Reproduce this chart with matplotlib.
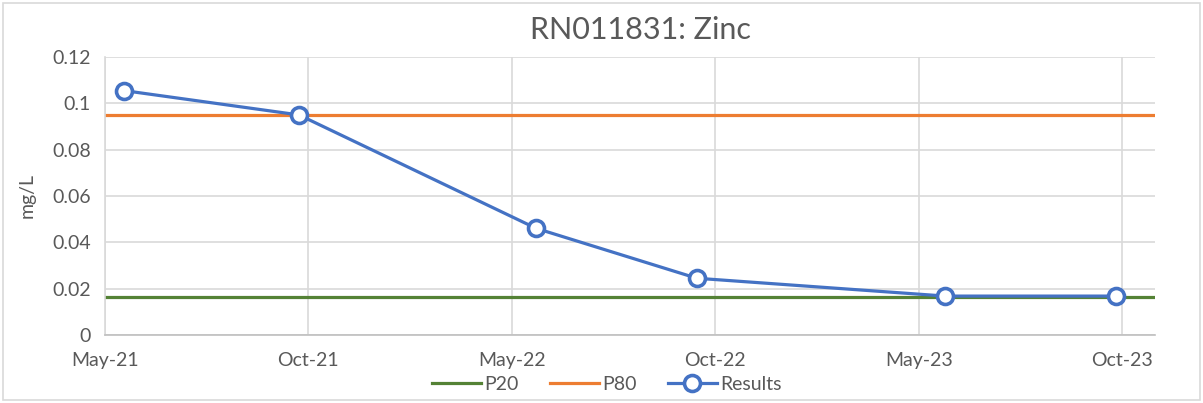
import matplotlib
matplotlib.use("Agg")
import matplotlib.pyplot as plt
import matplotlib.dates as mdates
from matplotlib.patches import Rectangle
import datetime as dt

# ---- data ----
sample_dates = ["2021-05-19", "2021-10-23", "2022-05-24", "2022-10-15", "2023-05-26", "2023-10-26"]
results = [0.1055, 0.095, 0.046, 0.0245, 0.0168, 0.0168]
p20_value = 0.0163
p80_value = 0.0948
tick_labels = ["May-21", "Oct-21", "May-22", "Oct-22", "May-23", "Oct-23"]
y_ticks = [0, 0.02, 0.04, 0.06, 0.08, 0.1, 0.12]
y_tick_labels = ["0", "0.02", "0.04", "0.06", "0.08", "0.1", "0.12"]

plt.rcParams['font.family'] = ['Lato', 'DejaVu Sans']
TXT = "#595959"

fig = plt.figure(figsize=(12.03, 4.03), dpi=100)
ax = fig.add_axes([105/1203, 1-335/403, (1155-105)/1203, (335-57)/403])

x = [mdates.date2num(dt.datetime.strptime(d, "%Y-%m-%d")) for d in sample_dates]
x0 = mdates.date2num(dt.datetime(2021, 5, 2))
unit = 182.5
ticks = [x0 + i*unit for i in range(len(tick_labels))]
xmax = x0 + 5.162*unit

ax.axhline(p20_value, color="#548235", lw=2.3, label="P20", zorder=2)
ax.axhline(p80_value, color="#ED7D31", lw=2.3, label="P80", zorder=2)
ax.plot(x, results, color="#4472C4", lw=2.3, marker="o", ms=11.5, mfc="white",
        mec="#4472C4", mew=2.6, label="Results", zorder=3)

ax.set_xlim(x0, xmax)
ax.set_ylim(0, 0.12)
ax.set_xticks(ticks)
ax.set_xticklabels(tick_labels)
ax.set_yticks(y_ticks)
ax.set_yticklabels(y_tick_labels)
ax.grid(True, color="#D9D9D9", lw=1.2, zorder=0)
ax.set_axisbelow(True)
for s in ["top", "right"]:
    ax.spines[s].set_visible(False)
ax.spines["left"].set_color("#D9D9D9")
ax.spines["bottom"].set_color("#BFBFBF")
ax.spines["left"].set_linewidth(1.2)
ax.spines["bottom"].set_linewidth(1.2)
ax.tick_params(axis="both", length=0, labelsize=14, colors=TXT, pad=10)
ax.tick_params(axis="x", pad=12)
ax.set_ylabel("mg/L", fontsize=14, color=TXT, labelpad=12)

fig.text(640/1203, 1-30/403, "RN011831: Zinc", ha="center", va="center", fontsize=22, color=TXT)

leg = fig.legend(loc="center", bbox_to_anchor=(607/1203, 1-384/403), ncol=3, frameon=False,
                 fontsize=14, handlelength=2.5, columnspacing=1.6, handletextpad=0.2)
for t in leg.get_texts():
    t.set_color(TXT)

fig.patches.append(Rectangle((3/1203, 3/403), 1197/1203, 397/403, transform=fig.transFigure,
                             fill=False, ec="#D9D9D9", lw=1.2))

fig.savefig("out.png", dpi=100)
